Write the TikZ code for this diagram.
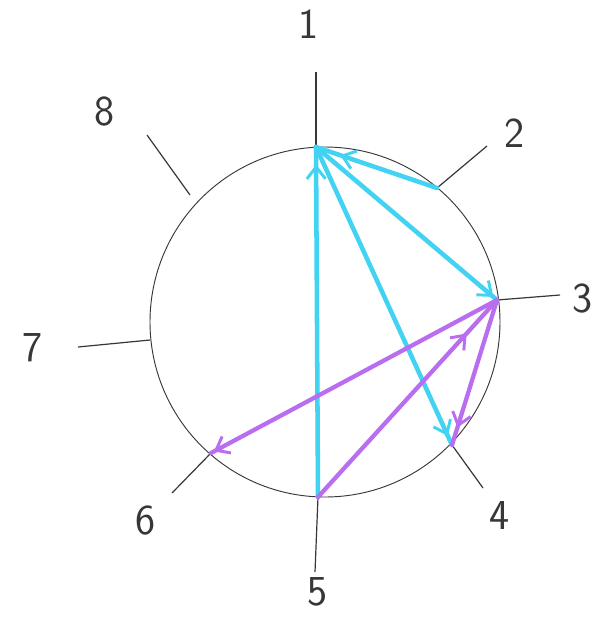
\documentclass[tikz,border=0pt]{standalone}
\usetikzlibrary{arrows.meta,decorations.markings}
\definecolor{cyanpen}{RGB}{66,210,242}
\definecolor{purplepen}{RGB}{185,110,240}
\definecolor{pencil}{RGB}{55,55,55}
\begin{document}
\begin{tikzpicture}[x=0.75pt,y=-0.75pt,
  tick/.style={draw=pencil,line width=0.9pt},
  rim/.style={draw=pencil,line width=0.7pt},
  lbl/.style={font=\sffamily\fontsize{32}{32}\selectfont,text=pencil},
  cyanline/.style={draw=cyanpen,line width=3.4pt,line cap=round},
  purpleline/.style={draw=purplepen,line width=3.2pt,line cap=round},
  tipat/.style={postaction={decorate},decoration={markings,
    mark=at position #1 with {\arrow{Straight Barb[length=9pt,width=14pt,line width=2.2pt]}}}}]
\useasboundingbox (0,0) rectangle (595,618);
\fill[white] (0,0) rectangle (595,618);
% circle
\coordinate (c) at (325,322);
\draw[rim] (c) circle[radius=131.25pt];
% points on the circle
\coordinate (p1) at (316,147);
\coordinate (p2) at (437,188);
\coordinate (p3) at (497,300);
\coordinate (p4) at (452,445);
\coordinate (p5) at (318,497);
\coordinate (p6) at (211,453);
\coordinate (p7) at (150,340);
\coordinate (p8) at (190,195);
% outer ends of ticks
\coordinate (q1) at (316,72);
\coordinate (q2) at (487,146);
\coordinate (q3) at (560,295);
\coordinate (q4) at (483,488);
\coordinate (q5) at (315,572);
\coordinate (q6) at (172,493);
\coordinate (q7) at (78,347);
\coordinate (q8) at (147,135);
\foreach \i in {1,...,8}{\draw[tick] (p\i) -- (q\i);}
% labels
\node[lbl] (l1) at (309,24) {1};
\node[lbl] (l2) at (515,133) {2};
\node[lbl] (l3) at (583,298) {3};
\node[lbl] (l4) at (500,515) {4};
\node[lbl] (l5) at (318,592) {5};
\node[lbl] (l6) at (146,520) {6};
\node[lbl] (l7) at (33,348) {7};
\node[lbl] (l8) at (105,112) {8};
% cyan chords
\draw[cyanline,tipat=0.8] (p2) -- (p1);
\draw[cyanline,tipat=0.95] (p5) -- (p1);
\draw[cyanline,tipat=0.98] (p1) -- (p3);
\draw[cyanline,tipat=0.97] (p1) -- (p4);
% purple chords
\draw[purpleline,tipat=0.99] (p3) -- (p6);
\draw[purpleline,tipat=0.83] (p5) -- (p3);
\draw[purpleline,tipat=0.88] (p3) -- (p4);
\end{tikzpicture}
\end{document}
